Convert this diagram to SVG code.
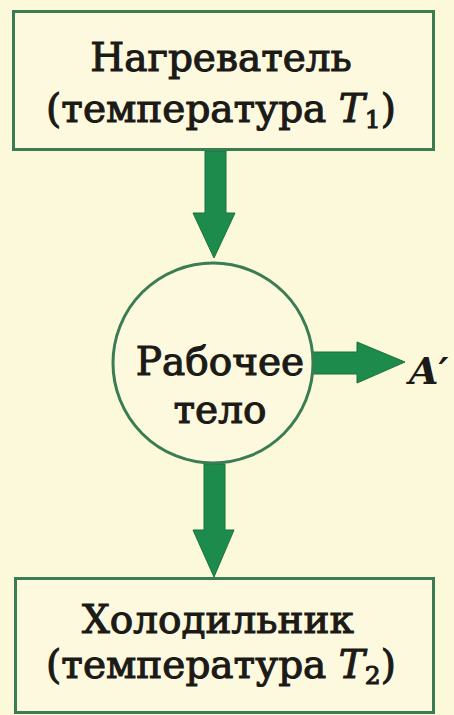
<svg xmlns="http://www.w3.org/2000/svg" width="454" height="715" viewBox="0 0 454 715">
<defs>
<style>
.box{fill:#fdf9df;stroke:#3b7d52;stroke-width:3}
.arrow{fill:#1d8b4c;stroke:#16733e;stroke-width:1}
.t{font-family:"DejaVu Serif","Liberation Serif",serif;font-size:39px;fill:#1b1a17;text-anchor:middle;stroke:#1b1a17;stroke-width:1.1}
.it{font-style:italic}
.sub{font-size:25px;font-style:normal}
</style>
</defs>
<rect width="454" height="715" fill="#fcf8da"/>
<g id="connectors">
<polygon class="arrow" points="205,151 226,151 226,213 235,213 214,258 193,213 205,213"/>
<polygon class="arrow" points="204,464 225,464 225,530 234,530 214,577 193,530 204,530"/>
<polygon class="arrow" points="313,352 357,352 357,342 405,362 357,383 357,374 313,374"/>
</g>
<g id="heater">
<rect class="box" x="13.5" y="11.5" width="420" height="138"/>
<text class="t" x="221" y="71">Нагреватель</text>
<text class="t" x="221" y="122">(температура <tspan class="it">T</tspan><tspan class="sub" dy="6">1</tspan><tspan dy="-6">)</tspan></text>
</g>
<g id="body">
<circle cx="213" cy="363" r="100" fill="#fdf9df" stroke="#3b7d52" stroke-width="3"/>
<text class="t" x="220" y="375">Рабочее</text>
<text class="t" x="220" y="423">тело</text>
</g>
<g id="work">
<text x="409" y="384" style="font-family:'DejaVu Serif',serif;font-style:italic;font-weight:bold;font-size:38px;fill:#1b1a17">A′</text>
</g>
<g id="cooler">
<rect class="box" x="15.5" y="578.5" width="418" height="134"/>
<text class="t" x="218" y="633">Холодильник</text>
<text class="t" x="221" y="678">(температура <tspan class="it">T</tspan><tspan class="sub" dy="6">2</tspan><tspan dy="-6">)</tspan></text>
</g>
</svg>
